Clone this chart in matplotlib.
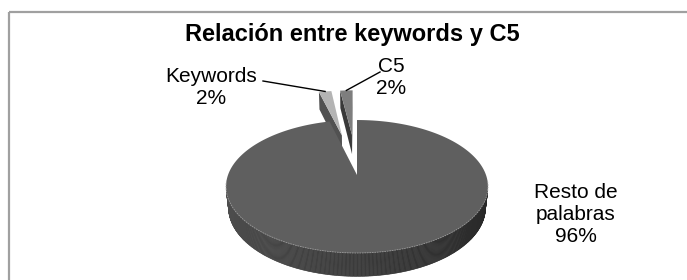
import numpy as np
import matplotlib.pyplot as plt
from matplotlib.patches import Polygon

plt.rcParams['font.family'] = ['Liberation Sans', 'DejaVu Sans']

# Chart data (Excel order: clockwise from 12 o'clock)
labels = ['Resto de\npalabras', 'Keywords', 'C5']
values = [96, 2, 2]
explode = [0.0, 0.7, 0.7]
top_colors = ['#5f5f5f', '#b4b4b4', '#7e7e7e']
title = 'Relación entre keywords y C5'

# fake 3D camera (pixel space)
PHI = np.radians(30)
DIST = 5.0
FOCAL = 645
CX, CY = 357, 175
THICK = 0.19
CAM = np.array([0.0, -DIST * np.cos(PHI), DIST * np.sin(PHI)])


def project(x, y, z):
    zc = y * np.cos(PHI) - z * np.sin(PHI) + DIST
    sx = CX + FOCAL * x / zc
    sy = CY - FOCAL * (y * np.sin(PHI) + z * np.cos(PHI)) / zc
    return sx, sy


def visible(point, normal):
    return np.dot(CAM - point, normal) > 0


def shade(color, k):
    rgb = np.array(plt.matplotlib.colors.to_rgb(color))
    return tuple(np.clip(rgb * k, 0, 1))


fig = plt.figure(figsize=(6.87, 2.80), dpi=100)
ax = fig.add_axes([0, 0, 1, 1])
ax.set_xlim(0, 687)
ax.set_ylim(280, 0)
ax.axis('off')

total = sum(values)
fracs = np.array(values) / total
ends = 90 - np.cumsum(fracs) * 360
starts = np.concatenate([[90], ends[:-1]])

slices = []
for i in range(len(values)):
    t0, t1 = np.radians(ends[i]), np.radians(starts[i])
    mid = (t0 + t1) / 2
    off = explode[i] * np.array([np.cos(mid), np.sin(mid)])
    depth = (off[1] + 0.5 * np.sin(mid)) * np.cos(PHI)
    slices.append((depth, i, t0, t1, mid, off))

# far slices first
slices.sort(key=lambda s: -s[0])
anchors = {}
for depth, i, t0, t1, mid, off in slices:
    col = top_colors[i]
    n = max(int(np.degrees(t1 - t0)), 8) * 2
    th = np.linspace(t0, t1, n)
    ox, oy = off

    # radial cut faces
    for ang, sign in ((t0, -1), (t1, 1)):
        normal = sign * np.array([-np.sin(ang), np.cos(ang), 0])
        p = np.array([ox + 0.5 * np.cos(ang), oy + 0.5 * np.sin(ang), 0])
        if visible(p, normal):
            xs = [ox, ox + np.cos(ang), ox + np.cos(ang), ox]
            ys = [oy, oy + np.sin(ang), oy + np.sin(ang), oy]
            zs = [0, 0, -THICK, -THICK]
            px, py = project(np.array(xs), np.array(ys), np.array(zs))
            ax.add_patch(Polygon(np.column_stack([px, py]), closed=True,
                                 facecolor=shade(col, 0.45), edgecolor='none'))

    # outer side, shaded strip by strip
    for a, b in zip(th[:-1], th[1:]):
        m = (a + b) / 2
        p = np.array([ox + np.cos(m), oy + np.sin(m), -THICK / 2])
        if not visible(p, np.array([np.cos(m), np.sin(m), 0])):
            continue
        xs = ox + np.array([np.cos(a), np.cos(b), np.cos(b), np.cos(a)])
        ys = oy + np.array([np.sin(a), np.sin(b), np.sin(b), np.sin(a)])
        zs = np.array([0, 0, -THICK, -THICK])
        px, py = project(xs, ys, zs)
        c = shade(col, 0.62 - 0.2 * np.cos(m))
        ax.add_patch(Polygon(np.column_stack([px, py]), closed=True,
                             facecolor=c, edgecolor=c, linewidth=0.4))

    # top face
    xs = np.concatenate([[ox], ox + np.cos(th)])
    ys = np.concatenate([[oy], oy + np.sin(th)])
    px, py = project(xs, ys, np.zeros_like(xs))
    ax.add_patch(Polygon(np.column_stack([px, py]), closed=True,
                         facecolor=col, edgecolor='none'))

    anchors[i] = project(ox + np.cos(mid), oy + np.sin(mid), 0)

# front rim highlight of the big slice
th = np.linspace(np.radians(-175), np.radians(-5), 200)
px, py = project(np.cos(th), np.sin(th), np.zeros_like(th))
ax.plot(px, py, color='#9a9a9a', lw=0.6, ls=(0, (2, 1)))

# data labels
label_pos = {0: (576, 214), 1: (211, 88), 2: (391, 78)}
line_from = {1: (263, 81), 2: (380, 72)}
for i, lab in enumerate(labels):
    txt = f'{lab}\n{fracs[i]:.0%}'
    x, y = label_pos[i]
    ax.text(x, y, txt, ha='center', va='center', multialignment='center',
            fontsize=15, linespacing=1.2, color='black')
    if i in line_from:
        ax.plot([line_from[i][0], anchors[i][0]], [line_from[i][1], anchors[i][1]],
                color='black', lw=1.0)

ax.text(352, 35, title, ha='center', va='center', fontsize=17, weight='bold')

# chart frame (only left/top edges fall inside the picture)
ax.plot([9, 9], [280, 12], color='#a0a0a0', lw=1.6, solid_capstyle='butt')
ax.plot([9, 687], [12, 12], color='#a0a0a0', lw=1.6, solid_capstyle='butt')

fig.savefig('out.png', dpi=100)
